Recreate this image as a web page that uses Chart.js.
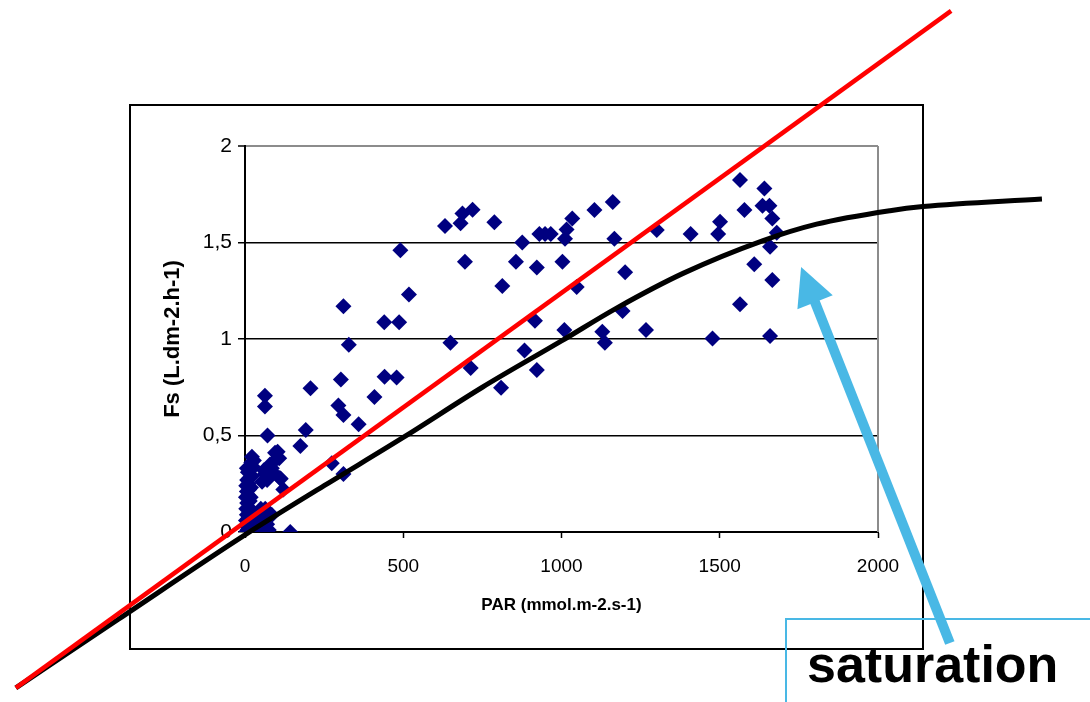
<!DOCTYPE html>
<html>
<head>
<meta charset="utf-8">
<script src="https://cdn.jsdelivr.net/npm/chart.js@4/dist/chart.umd.min.js"></script>
<style>
  html, body { margin: 0; padding: 0; background: #ffffff; }
  canvas { display: block; }
</style>
</head>
<body>
<canvas id="c" width="1090" height="702"></canvas>
<script>
// ---- data ----
const xTicks = [0, 500, 1000, 1500, 2000];
const yTicks = [0, 0.5, 1, 1.5, 2];

const scatterPAR = [
  632, 681, 687, 719, 788, 876, 930, 948, 966, 491, 695, 856, 922, 1003, 813, 518, 311, 440, 487, 916,
  1009, 328, 649, 883, 713, 922, 303, 441, 479, 207, 809, 63, 63, 409, 295, 311, 359, 192, 71, 175,
  103, 108, 274, 311, 113, 121, 143,
  1564, 1641, 1578, 1635, 1657, 1666, 1680, 1659, 1162, 1104, 1034, 1016, 1011, 1167, 1301, 1408, 1501, 1495, 1201,
  1609, 1048, 1666, 1193, 1564, 1129, 1137, 1267, 1477, 1659,
  3, 8, 15, 5, 12, 3, 10, 18, 6, 14, 4, 11, 20, 7, 15, 3, 10, 18, 6, 13, 4, 11, 19, 7, 14, 22, 9, 17, 24, 28, 20,
  30, 45, 60, 75, 40, 55, 65, 50, 35, 70,
  95, 79, 63, 54, 70, 88, 110, 100, 85, 60, 22, 6, 85, 64
];
const scatterFs = [
  1.585, 1.60, 1.65, 1.67, 1.605, 1.50, 1.544, 1.544, 1.544, 1.46, 1.40, 1.40, 1.37, 1.40, 1.275, 1.23, 1.17, 1.087, 1.087, 1.095,
  1.047, 0.97, 0.98, 0.94, 0.85, 0.84, 0.79, 0.805, 0.80, 0.745, 0.747, 0.706, 0.65, 0.70, 0.655, 0.606, 0.558, 0.528, 0.50, 0.446,
  0.416, 0.382, 0.356, 0.30, 0.276, 0.22, 0.0,
  1.824, 1.78, 1.668, 1.69, 1.69, 1.625, 1.55, 1.478, 1.71, 1.668, 1.625, 1.568, 1.52, 1.52, 1.565, 1.544, 1.608, 1.544, 1.346,
  1.387, 1.27, 1.306, 1.145, 1.18, 1.038, 0.98, 1.047, 1.003, 1.015,
  0.0, 0.01, 0.0, 0.03, 0.04, 0.06, 0.07, 0.05, 0.09, 0.10, 0.12, 0.13, 0.11, 0.15, 0.16, 0.18, 0.19, 0.18, 0.21, 0.22, 0.24, 0.25, 0.23, 0.27, 0.28, 0.29, 0.31, 0.32, 0.34, 0.37, 0.36,
  0.03, 0.0, 0.0, 0.01, 0.06, 0.05, 0.10, 0.12, 0.09, 0.04,
  0.41, 0.35, 0.30, 0.26, 0.27, 0.31, 0.28, 0.38, 0.33, 0.32, 0.39, 0.33, 0.088, 0.12
];

// straight red reference line (extends beyond the plot)
const redPAR = [-724, 2231];
const redFs = [-0.808, 2.70];

// black fitted curve (extends beyond the plot)
const blackPAR = [-724, -400, 0, 250, 500, 750, 1000, 1174, 1384, 1637, 1806, 2038, 2142, 2518];
const blackFs = [-0.808, -0.452, -0.015, 0.24, 0.49, 0.75, 0.99, 1.16, 1.34, 1.51, 1.595, 1.665, 1.686, 1.725];

// annotation (arrow in data units)
const arrowFrom = [2227, -0.575];
const arrowTo = [1757, 1.373];
const annotationText = 'saturation';

const xTitle = 'PAR (mmol.m-2.s-1)';
const yTitle = 'Fs (L.dm-2.h-1)';

// ---- build chart ----
const toPoints = (xs, ys) => xs.map((x, i) => ({ x: x, y: ys[i] }));

const FONT = '"Liberation Sans", Arial, Helvetica, sans-serif';
const CYAN = '#49B8E5';

const decorations = {
  id: 'decorations',
  beforeDraw(chart) {
    const ctx = chart.ctx;
    ctx.save();
    ctx.fillStyle = '#ffffff';
    ctx.fillRect(0, 0, chart.width, chart.height);
    // outer chart frame
    ctx.strokeStyle = '#000000';
    ctx.lineWidth = 2;
    ctx.strokeRect(130, 105, 793, 544);
    ctx.restore();
  },
  beforeDatasetsDraw(chart) {
    const ctx = chart.ctx;
    const a = chart.chartArea;
    ctx.save();
    ctx.strokeStyle = '#8c8c8c';
    ctx.lineWidth = 2;
    ctx.beginPath();
    ctx.moveTo(a.right, a.top);
    ctx.lineTo(a.right, a.bottom);
    ctx.stroke();
    ctx.restore();
  },
  afterDraw(chart) {
    const ctx = chart.ctx;
    const xs = chart.scales.x, ys = chart.scales.y;
    const x0 = xs.getPixelForValue(arrowFrom[0]), y0 = ys.getPixelForValue(arrowFrom[1]);
    const x1 = xs.getPixelForValue(arrowTo[0]), y1 = ys.getPixelForValue(arrowTo[1]);
    ctx.save();
    // annotation box
    ctx.strokeStyle = CYAN;
    ctx.lineWidth = 2;
    ctx.beginPath();
    ctx.moveTo(1090, 619);
    ctx.lineTo(786, 619);
    ctx.lineTo(786, 702);
    ctx.stroke();
    // arrow
    const ang = Math.atan2(y1 - y0, x1 - x0);
    const headLen = 38, headHalf = 19;
    const bx = x1 - headLen * Math.cos(ang), by = y1 - headLen * Math.sin(ang);
    ctx.strokeStyle = CYAN;
    ctx.lineWidth = 10;
    ctx.lineCap = 'butt';
    ctx.beginPath();
    ctx.moveTo(x0, y0);
    ctx.lineTo(bx + 2 * Math.cos(ang), by + 2 * Math.sin(ang));
    ctx.stroke();
    ctx.fillStyle = CYAN;
    ctx.beginPath();
    ctx.moveTo(x1, y1);
    ctx.lineTo(bx + headHalf * Math.sin(ang), by - headHalf * Math.cos(ang));
    ctx.lineTo(bx - headHalf * Math.sin(ang), by + headHalf * Math.cos(ang));
    ctx.closePath();
    ctx.fill();
    // text
    ctx.fillStyle = '#000000';
    ctx.font = 'bold 52px ' + FONT;
    ctx.textAlign = 'left';
    ctx.textBaseline = 'alphabetic';
    ctx.fillText(annotationText, 807, 682);
    ctx.restore();
  }
};

new Chart(document.getElementById('c'), {
  type: 'scatter',
  data: {
    datasets: [
      {
        label: 'red',
        data: toPoints(redPAR, redFs),
        showLine: true,
        borderColor: '#ff0000',
        borderWidth: 4.5,
        pointRadius: 0,
        clip: false,
        order: 0
      },
      {
        label: 'black',
        data: toPoints(blackPAR, blackFs),
        showLine: true,
        borderColor: '#000000',
        borderWidth: 5,
        pointRadius: 0,
        cubicInterpolationMode: 'monotone',
        clip: false,
        order: 1
      },
      {
        label: 'Fs',
        data: toPoints(scatterPAR, scatterFs),
        pointStyle: 'rectRot',
        pointRadius: 8,
        backgroundColor: '#000080',
        borderColor: '#000080',
        borderWidth: 0,
        order: 2
      }
    ]
  },
  options: {
    responsive: false,
    animation: false,
    devicePixelRatio: 1,
    layout: { padding: { left: 160, right: 212, top: 146, bottom: 86 } },
    plugins: { legend: { display: false }, tooltip: { enabled: false } },
    scales: {
      x: {
        type: 'linear',
        afterDataLimits(s) { s.min = xTicks[0]; s.max = xTicks[xTicks.length - 1]; },
        afterFit(s) { s.height = 84; },
        afterBuildTicks(s) { s.ticks = xTicks.map(v => ({ value: v })); },
        ticks: {
          color: '#000', font: { family: FONT, size: 19 }, padding: 17,
          maxRotation: 0, callback: v => String(v)
        },
        grid: { drawOnChartArea: false, drawTicks: true, tickLength: 6, tickColor: '#000', tickWidth: 1.5 },
        border: { display: true, color: '#000', width: 2 },
        title: { display: true, text: xTitle, color: '#000', font: { family: FONT, size: 17, weight: 'bold' }, padding: { top: 0, bottom: 0 } }
      },
      y: {
        type: 'linear',
        min: yTicks[0],
        max: yTicks[yTicks.length - 1],
        afterFit(s) { s.width = 85; },
        afterBuildTicks(s) { s.ticks = yTicks.map(v => ({ value: v })); },
        ticks: {
          color: '#000', font: { family: FONT, size: 21 }, padding: 6,
          callback: v => String(v).replace('.', ',')
        },
        grid: {
          color: ctx => (ctx.tick && ctx.tick.value === 2 ? '#8c8c8c' : '#000'),
          lineWidth: ctx => (ctx.tick && ctx.tick.value === 2 ? 2 : 1.5),
          drawTicks: true, tickLength: 7, tickColor: '#000', tickWidth: 1.5
        },
        border: { display: true, color: '#000', width: 2 },
        title: { display: true, text: yTitle, color: '#000', font: { family: FONT, size: 22, weight: 'bold' }, padding: { top: 0, bottom: 0 } }
      }
    }
  },
  plugins: [decorations]
});
</script>
</body>
</html>
